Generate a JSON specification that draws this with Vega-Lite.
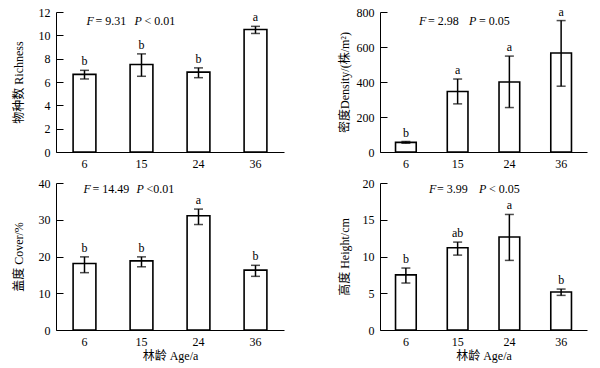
{
  "$schema": "https://vega.github.io/schema/vega-lite/v6.json",
  "padding": {"left": 12, "top": 5, "right": 5, "bottom": 5},
  "datasets": {
    "rich": [
      {"age": "6", "mean": 6.65, "lo": 6.26, "hi": 7.0, "sig": "b"},
      {"age": "15", "mean": 7.5, "lo": 6.49, "hi": 8.41, "sig": "b"},
      {"age": "24", "mean": 6.85, "lo": 6.37, "hi": 7.21, "sig": "b"},
      {"age": "36", "mean": 10.5, "lo": 10.16, "hi": 10.77, "sig": "a"}
    ],
    "dens": [
      {"age": "6", "mean": 55, "lo": 50, "hi": 60, "sig": "b"},
      {"age": "15", "mean": 346, "lo": 275, "hi": 417, "sig": "a"},
      {"age": "24", "mean": 400, "lo": 254, "hi": 548, "sig": "a"},
      {"age": "36", "mean": 566, "lo": 376, "hi": 751, "sig": "a"}
    ],
    "cover": [
      {"age": "6", "mean": 18.1, "lo": 15.6, "hi": 19.9, "sig": "b"},
      {"age": "15", "mean": 18.8, "lo": 17.2, "hi": 19.9, "sig": "b"},
      {"age": "24", "mean": 31.1, "lo": 28.7, "hi": 32.9, "sig": "a"},
      {"age": "36", "mean": 16.3, "lo": 14.6, "hi": 17.6, "sig": "b"}
    ],
    "height": [
      {"age": "6", "mean": 7.5, "lo": 6.39, "hi": 8.43, "sig": "b"},
      {"age": "15", "mean": 11.2, "lo": 10.19, "hi": 11.96, "sig": "ab"},
      {"age": "24", "mean": 12.65, "lo": 9.47, "hi": 15.72, "sig": "a"},
      {"age": "36", "mean": 5.18, "lo": 4.71, "hi": 5.57, "sig": "b"}
    ],
    "rich_ann": [{"age": "6", "y": 11.27, "f": "F", "fv": "= 9.31", "p": "P", "pv": "< 0.01"}],
    "dens_ann": [{"age": "6", "y": 748, "f": "F", "fv": "= 2.98", "p": "P", "pv": "= 0.05"}],
    "cover_ann": [{"age": "6", "y": 38.4, "f": "F", "fv": "= 14.49", "p": "P", "pv": "<0.01"}],
    "height_ann": [{"age": "6", "y": 19.2, "f": "F", "fv": "= 3.99", "p": "P", "pv": "< 0.05"}]
  },
  "vconcat": [
    {
      "hconcat": [
        {
          "width": 228, "height": 140,
          "encoding": {"x": {"field": "age", "type": "ordinal", "sort": ["6", "15", "24", "36"], "scale": {"paddingInner": 0.6, "paddingOuter": 0.3}, "axis": {"title": null}}},
          "layer": [
            {"data": {"name": "rich"}, "mark": {"type": "bar", "fill": "white", "stroke": "black", "strokeWidth": 1.6},
             "encoding": {"y": {"field": "mean", "type": "quantitative", "title": "物种数 Richness", "scale": {"domain": [0, 12], "nice": false}, "axis": {"values": [0, 2, 4, 6, 8, 10, 12], "titlePadding": 11}}}},
            {"data": {"name": "rich"}, "mark": {"type": "errorbar", "color": "black", "ticks": {"size": 9, "thickness": 1.5}, "rule": {"strokeWidth": 1.5}},
             "encoding": {"y": {"field": "lo", "type": "quantitative", "title": "物种数 Richness", "axis": {"values": [0, 2, 4, 6, 8, 10, 12], "titlePadding": 11}}, "y2": {"field": "hi"}}},
            {"data": {"name": "rich"}, "mark": {"type": "text", "baseline": "bottom", "dy": -2, "fontSize": 12, "color": "black"},
             "encoding": {"y": {"field": "hi", "type": "quantitative", "title": "物种数 Richness", "axis": {"values": [0, 2, 4, 6, 8, 10, 12], "titlePadding": 11}}, "text": {"field": "sig"}}},
            {"data": {"name": "rich_ann"}, "mark": {"type": "text", "align": "left", "baseline": "middle", "fontStyle": "italic", "dx": 2, "fontSize": 12, "color": "black"},
             "encoding": {"y": {"field": "y", "type": "quantitative", "title": "物种数 Richness", "axis": {"values": [0, 2, 4, 6, 8, 10, 12], "titlePadding": 11}}, "text": {"field": "f"}}},
            {"data": {"name": "rich_ann"}, "mark": {"type": "text", "align": "left", "baseline": "middle", "dx": 11, "fontSize": 12, "color": "black"},
             "encoding": {"y": {"field": "y", "type": "quantitative", "title": "物种数 Richness", "axis": {"values": [0, 2, 4, 6, 8, 10, 12], "titlePadding": 11}}, "text": {"field": "fv"}}},
            {"data": {"name": "rich_ann"}, "mark": {"type": "text", "align": "left", "baseline": "middle", "fontStyle": "italic", "dx": 50, "fontSize": 12, "color": "black"},
             "encoding": {"y": {"field": "y", "type": "quantitative", "title": "物种数 Richness", "axis": {"values": [0, 2, 4, 6, 8, 10, 12], "titlePadding": 11}}, "text": {"field": "p"}}},
            {"data": {"name": "rich_ann"}, "mark": {"type": "text", "align": "left", "baseline": "middle", "dx": 60, "fontSize": 12, "color": "black"},
             "encoding": {"y": {"field": "y", "type": "quantitative", "title": "物种数 Richness", "axis": {"values": [0, 2, 4, 6, 8, 10, 12], "titlePadding": 11}}, "text": {"field": "pv"}}}
          ]
        },
        {
          "width": 207, "height": 140,
          "encoding": {"x": {"field": "age", "type": "ordinal", "sort": ["6", "15", "24", "36"], "scale": {"paddingInner": 0.6, "paddingOuter": 0.3}, "axis": {"title": null}}},
          "layer": [
            {"data": {"name": "dens"}, "mark": {"type": "bar", "fill": "white", "stroke": "black", "strokeWidth": 1.6},
             "encoding": {"y": {"field": "mean", "type": "quantitative", "title": "密度Density/(株/m²)", "scale": {"domain": [0, 800], "nice": false}, "axis": {"values": [0, 200, 400, 600, 800], "titlePadding": 9}}}},
            {"data": {"name": "dens"}, "mark": {"type": "errorbar", "color": "black", "ticks": {"size": 9, "thickness": 1.5}, "rule": {"strokeWidth": 1.5}},
             "encoding": {"y": {"field": "lo", "type": "quantitative", "title": "密度Density/(株/m²)", "axis": {"values": [0, 200, 400, 600, 800], "titlePadding": 9}}, "y2": {"field": "hi"}}},
            {"data": {"name": "dens"}, "mark": {"type": "text", "baseline": "bottom", "dy": -2, "fontSize": 12, "color": "black"},
             "encoding": {"y": {"field": "hi", "type": "quantitative", "title": "密度Density/(株/m²)", "axis": {"values": [0, 200, 400, 600, 800], "titlePadding": 9}}, "text": {"field": "sig"}}},
            {"data": {"name": "dens_ann"}, "mark": {"type": "text", "align": "left", "baseline": "middle", "fontStyle": "italic", "dx": 13, "fontSize": 12, "color": "black"},
             "encoding": {"y": {"field": "y", "type": "quantitative", "title": "密度Density/(株/m²)", "axis": {"values": [0, 200, 400, 600, 800], "titlePadding": 9}}, "text": {"field": "f"}}},
            {"data": {"name": "dens_ann"}, "mark": {"type": "text", "align": "left", "baseline": "middle", "dx": 22, "fontSize": 12, "color": "black"},
             "encoding": {"y": {"field": "y", "type": "quantitative", "title": "密度Density/(株/m²)", "axis": {"values": [0, 200, 400, 600, 800], "titlePadding": 9}}, "text": {"field": "fv"}}},
            {"data": {"name": "dens_ann"}, "mark": {"type": "text", "align": "left", "baseline": "middle", "fontStyle": "italic", "dx": 63, "fontSize": 12, "color": "black"},
             "encoding": {"y": {"field": "y", "type": "quantitative", "title": "密度Density/(株/m²)", "axis": {"values": [0, 200, 400, 600, 800], "titlePadding": 9}}, "text": {"field": "p"}}},
            {"data": {"name": "dens_ann"}, "mark": {"type": "text", "align": "left", "baseline": "middle", "dx": 73, "fontSize": 12, "color": "black"},
             "encoding": {"y": {"field": "y", "type": "quantitative", "title": "密度Density/(株/m²)", "axis": {"values": [0, 200, 400, 600, 800], "titlePadding": 9}}, "text": {"field": "pv"}}}
          ]
        }
      ],
      "spacing": 54
    },
    {
      "hconcat": [
        {
          "width": 228, "height": 147,
          "encoding": {"x": {"field": "age", "type": "ordinal", "sort": ["6", "15", "24", "36"], "scale": {"paddingInner": 0.6, "paddingOuter": 0.3}, "axis": {"title": "林龄 Age/a"}}},
          "layer": [
            {"data": {"name": "cover"}, "mark": {"type": "bar", "fill": "white", "stroke": "black", "strokeWidth": 1.6},
             "encoding": {"y": {"field": "mean", "type": "quantitative", "title": "盖度 Cover/%", "scale": {"domain": [0, 40], "nice": false}, "axis": {"values": [0, 10, 20, 30, 40], "titlePadding": 11}}}},
            {"data": {"name": "cover"}, "mark": {"type": "errorbar", "color": "black", "ticks": {"size": 9, "thickness": 1.5}, "rule": {"strokeWidth": 1.5}},
             "encoding": {"y": {"field": "lo", "type": "quantitative", "title": "盖度 Cover/%", "axis": {"values": [0, 10, 20, 30, 40], "titlePadding": 11}}, "y2": {"field": "hi"}}},
            {"data": {"name": "cover"}, "mark": {"type": "text", "baseline": "bottom", "dy": -2, "fontSize": 12, "color": "black"},
             "encoding": {"y": {"field": "hi", "type": "quantitative", "title": "盖度 Cover/%", "axis": {"values": [0, 10, 20, 30, 40], "titlePadding": 11}}, "text": {"field": "sig"}}},
            {"data": {"name": "cover_ann"}, "mark": {"type": "text", "align": "left", "baseline": "middle", "fontStyle": "italic", "dx": -1, "fontSize": 12, "color": "black"},
             "encoding": {"y": {"field": "y", "type": "quantitative", "title": "盖度 Cover/%", "axis": {"values": [0, 10, 20, 30, 40], "titlePadding": 11}}, "text": {"field": "f"}}},
            {"data": {"name": "cover_ann"}, "mark": {"type": "text", "align": "left", "baseline": "middle", "dx": 8, "fontSize": 12, "color": "black"},
             "encoding": {"y": {"field": "y", "type": "quantitative", "title": "盖度 Cover/%", "axis": {"values": [0, 10, 20, 30, 40], "titlePadding": 11}}, "text": {"field": "fv"}}},
            {"data": {"name": "cover_ann"}, "mark": {"type": "text", "align": "left", "baseline": "middle", "fontStyle": "italic", "dx": 52, "fontSize": 12, "color": "black"},
             "encoding": {"y": {"field": "y", "type": "quantitative", "title": "盖度 Cover/%", "axis": {"values": [0, 10, 20, 30, 40], "titlePadding": 11}}, "text": {"field": "p"}}},
            {"data": {"name": "cover_ann"}, "mark": {"type": "text", "align": "left", "baseline": "middle", "dx": 62, "fontSize": 12, "color": "black"},
             "encoding": {"y": {"field": "y", "type": "quantitative", "title": "盖度 Cover/%", "axis": {"values": [0, 10, 20, 30, 40], "titlePadding": 11}}, "text": {"field": "pv"}}}
          ]
        },
        {
          "width": 207, "height": 147,
          "encoding": {"x": {"field": "age", "type": "ordinal", "sort": ["6", "15", "24", "36"], "scale": {"paddingInner": 0.6, "paddingOuter": 0.3}, "axis": {"title": "林龄 Age/a"}}},
          "layer": [
            {"data": {"name": "height"}, "mark": {"type": "bar", "fill": "white", "stroke": "black", "strokeWidth": 1.6},
             "encoding": {"y": {"field": "mean", "type": "quantitative", "title": "高度 Height/cm", "scale": {"domain": [0, 20], "nice": false}, "axis": {"values": [0, 5, 10, 15, 20], "titlePadding": 9}}}},
            {"data": {"name": "height"}, "mark": {"type": "errorbar", "color": "black", "ticks": {"size": 9, "thickness": 1.5}, "rule": {"strokeWidth": 1.5}},
             "encoding": {"y": {"field": "lo", "type": "quantitative", "title": "高度 Height/cm", "axis": {"values": [0, 5, 10, 15, 20], "titlePadding": 9}}, "y2": {"field": "hi"}}},
            {"data": {"name": "height"}, "mark": {"type": "text", "baseline": "bottom", "dy": -2, "fontSize": 12, "color": "black"},
             "encoding": {"y": {"field": "hi", "type": "quantitative", "title": "高度 Height/cm", "axis": {"values": [0, 5, 10, 15, 20], "titlePadding": 9}}, "text": {"field": "sig"}}},
            {"data": {"name": "height_ann"}, "mark": {"type": "text", "align": "left", "baseline": "middle", "fontStyle": "italic", "dx": 23, "fontSize": 12, "color": "black"},
             "encoding": {"y": {"field": "y", "type": "quantitative", "title": "高度 Height/cm", "axis": {"values": [0, 5, 10, 15, 20], "titlePadding": 9}}, "text": {"field": "f"}}},
            {"data": {"name": "height_ann"}, "mark": {"type": "text", "align": "left", "baseline": "middle", "dx": 31, "fontSize": 12, "color": "black"},
             "encoding": {"y": {"field": "y", "type": "quantitative", "title": "高度 Height/cm", "axis": {"values": [0, 5, 10, 15, 20], "titlePadding": 9}}, "text": {"field": "fv"}}},
            {"data": {"name": "height_ann"}, "mark": {"type": "text", "align": "left", "baseline": "middle", "fontStyle": "italic", "dx": 73, "fontSize": 12, "color": "black"},
             "encoding": {"y": {"field": "y", "type": "quantitative", "title": "高度 Height/cm", "axis": {"values": [0, 5, 10, 15, 20], "titlePadding": 9}}, "text": {"field": "p"}}},
            {"data": {"name": "height_ann"}, "mark": {"type": "text", "align": "left", "baseline": "middle", "dx": 83, "fontSize": 12, "color": "black"},
             "encoding": {"y": {"field": "y", "type": "quantitative", "title": "高度 Height/cm", "axis": {"values": [0, 5, 10, 15, 20], "titlePadding": 9}}, "text": {"field": "pv"}}}
          ]
        }
      ],
      "spacing": 54
    }
  ],
  "spacing": 8,
  "config": {
    "view": {"stroke": null},
    "font": "'Liberation Serif', 'Noto Sans CJK SC', serif",
    "text": {"font": "'Liberation Serif', 'Noto Sans CJK SC', serif"},
    "axis": {
      "grid": false, "domainColor": "black", "domainWidth": 1, "tickColor": "black", "tickWidth": 1,
      "labelColor": "black", "titleColor": "black", "labelFontSize": 12, "titleFontSize": 12, "labelOverlap": false,
      "titleFontWeight": "normal", "labelFont": "'Liberation Serif', 'Noto Sans CJK SC', serif", "titleFont": "'Liberation Serif', 'Noto Sans CJK SC', serif"
    },
    "axisX": {"ticks": false, "labelAngle": 0, "labelPadding": 6, "titlePadding": 3},
    "axisY": {"tickSize": -7, "labelPadding": 13, "minExtent": 20, "maxExtent": 20}
  }
}
